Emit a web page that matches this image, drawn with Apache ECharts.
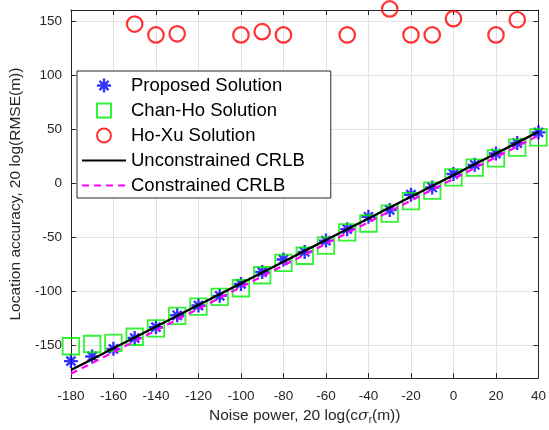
<!DOCTYPE html>
<html>
<head>
<meta charset="utf-8">
<script src="https://cdn.jsdelivr.net/npm/echarts@6/dist/echarts.min.js"></script>
<style>
  html, body { margin: 0; padding: 0; background: #fff; }
  #chart { width: 549px; height: 430px; }
</style>
</head>
<body>
<div id="chart"></div>
<script>
// noise power axis (dB)
const noisePower = [-180, -170, -160, -150, -140, -130, -120, -110, -100, -90, -80, -70,
  -60, -50, -40, -30, -20, -10, 0, 10, 20, 30, 40]
const proposed = [-164.3, -160, -153, -143, -133, -122, -113, -104, -93, -82, -70.5, -63.5,
  -53, -42.4, -31, -24.7, -10.6, -3.9, 8.5, 17, 27.4, 37.1, 47]
const chanHo = [-150.6, -148.5, -147.5, -141.8, -134, -122.5, -114, -105, -97, -85, -73.5, -67,
  -57.6, -45.4, -37.2, -28, -16.5, -6.8, 5.4, 14.5, 23, 32.8, 42.4]
const hoXuX = [-150, -140, -130, -100, -90, -80, -50, -30, -20, -10, 0, 20, 30]
const hoXuY = [147, 137, 138, 137, 140, 137, 137, 161, 137, 137, 152, 137, 151]
const crlbUnc = [-172.5, -162.5, -152.5, -142.5, -132.5, -122.5, -112.5, -102.5, -92.5, -82.5, -72.5, -62.5,
  -52.5, -42.5, -32.5, -22.5, -12.5, -2.5, 7.5, 17.5, 27.5, 37.5, 47.5]
const crlbCon = [-176, -166, -156, -146, -136, -126, -116, -106, -96, -86, -76, -66,
  -56, -46, -36, -26, -16, -6, 4, 14, 24, 34, 44]
const yTicks = [-150, -100, -50, 0, 50, 100, 150]

const pair = (xs, ys) => xs.map((x, i) => [x, ys[i]])

// asterisk marker like matlab '*'
const starPath = 'path://M0 8.3H20V11.7H0Z M8.3 0H11.7V20H8.3Z M2.3 4.7L4.7 2.3L17.7 15.3L15.3 17.7Z M15.3 2.3L17.7 4.7L4.7 17.7L2.3 15.3Z'
const squarePath = 'path://M0 0H10V10H0Z'

const txt = '#262626'
const chart = echarts.init(document.getElementById('chart'))

const option = {
  animation: false,
  textStyle: { fontFamily: 'Liberation Sans, Arial, sans-serif' },
  grid: { left: 66, right: 7, top: 10, bottom: 48 },
  legend: {
    orient: 'vertical',
    left: 77,
    top: 71,
    backgroundColor: '#fff',
    borderColor: '#262626',
    borderWidth: 1,
    borderRadius: 0,
    padding: [5, 26, 3, 4],
    itemWidth: 44,
    itemHeight: 14,
    itemGap: 6,
    symbolKeepAspect: true,
    textStyle: { fontSize: 18.5, color: '#000' },
    data: [
      'Proposed Solution',
      'Chan-Ho Solution',
      'Ho-Xu Solution',
      { name: 'Unconstrained CRLB', itemStyle: { opacity: 0 } },
      { name: 'Constrained CRLB', itemStyle: { opacity: 0 } }
    ]
  },
  xAxis: [
    {
      type: 'value',
      min: -180,
      max: 40,
      interval: 20,
      name: 'Noise power, 20 log(c{s|σ}{r|r}(m))',
      nameLocation: 'middle',
      nameGap: 28,
      nameTextStyle: {
        fontSize: 15.5,
        color: txt,
        rich: {
          s: { fontSize: 15.5, fontStyle: 'italic', fontFamily: 'DejaVu Serif', color: txt },
          r: { fontSize: 10, color: txt, padding: [8, 0, 0, 0] }
        }
      },
      axisLine: { onZero: false, lineStyle: { color: txt } },
      axisTick: { inside: true, length: 5, lineStyle: { color: txt } },
      axisLabel: { fontSize: 13.5, color: txt, margin: 11 },
      splitLine: { show: true, lineStyle: { color: '#e3e3e3' } }
    },
    {
      type: 'value',
      position: 'top',
      min: -180,
      max: 40,
      interval: 20,
      axisLine: { onZero: false, lineStyle: { color: txt } },
      axisTick: { inside: true, length: 5, lineStyle: { color: txt } },
      axisLabel: { show: false },
      splitLine: { show: false }
    }
  ],
  yAxis: [
    {
      type: 'value',
      min: -180,
      max: 160,
      name: 'Location accuracy, 20 log(RMSE(m))',
      nameLocation: 'middle',
      nameGap: 43,
      nameTextStyle: { fontSize: 15.5, color: txt },
      axisLine: { onZero: false, lineStyle: { color: txt } },
      axisTick: { inside: true, length: 5, customValues: yTicks, lineStyle: { color: txt } },
      axisLabel: { fontSize: 13.5, color: txt, margin: 9, customValues: yTicks },
      splitLine: { show: true, lineStyle: { color: '#e3e3e3' } }
    },
    {
      type: 'value',
      position: 'right',
      min: -180,
      max: 160,
      axisLine: { onZero: false, lineStyle: { color: txt } },
      axisTick: { inside: true, length: 5, customValues: yTicks, lineStyle: { color: txt } },
      axisLabel: { show: false, customValues: yTicks },
      splitLine: { show: false }
    }
  ],
  series: [
    {
      name: 'Proposed Solution',
      type: 'scatter',
      clip: false,
      symbol: starPath,
      symbolSize: 14,
      itemStyle: { color: '#0000ff' },
      data: pair(noisePower, proposed)
    },
    {
      name: 'Chan-Ho Solution',
      type: 'scatter',
      clip: false,
      symbol: squarePath,
      symbolSize: 16.5,
      itemStyle: { color: 'rgba(0,0,0,0)', borderColor: '#00ee00', borderWidth: 1.8 },
      data: pair(noisePower, chanHo)
    },
    {
      name: 'Ho-Xu Solution',
      type: 'scatter',
      clip: false,
      symbol: 'circle',
      symbolSize: 15.5,
      itemStyle: { color: 'rgba(0,0,0,0)', borderColor: '#ff0000', borderWidth: 2.2 },
      data: pair(hoXuX, hoXuY)
    },
    {
      name: 'Unconstrained CRLB',
      type: 'line',
      clip: false,
      showSymbol: false,
      symbol: 'none',
      color: '#000',
      lineStyle: { color: '#000', width: 2.3 },
      data: pair(noisePower, crlbUnc)
    },
    {
      name: 'Constrained CRLB',
      type: 'line',
      clip: false,
      showSymbol: false,
      symbol: 'none',
      color: '#ff00ff',
      lineStyle: { color: '#ff00ff', width: 2.2, type: [7, 5] },
      data: pair(noisePower, crlbCon)
    }
  ]
}

chart.setOption(option)
</script>
</body>
</html>
